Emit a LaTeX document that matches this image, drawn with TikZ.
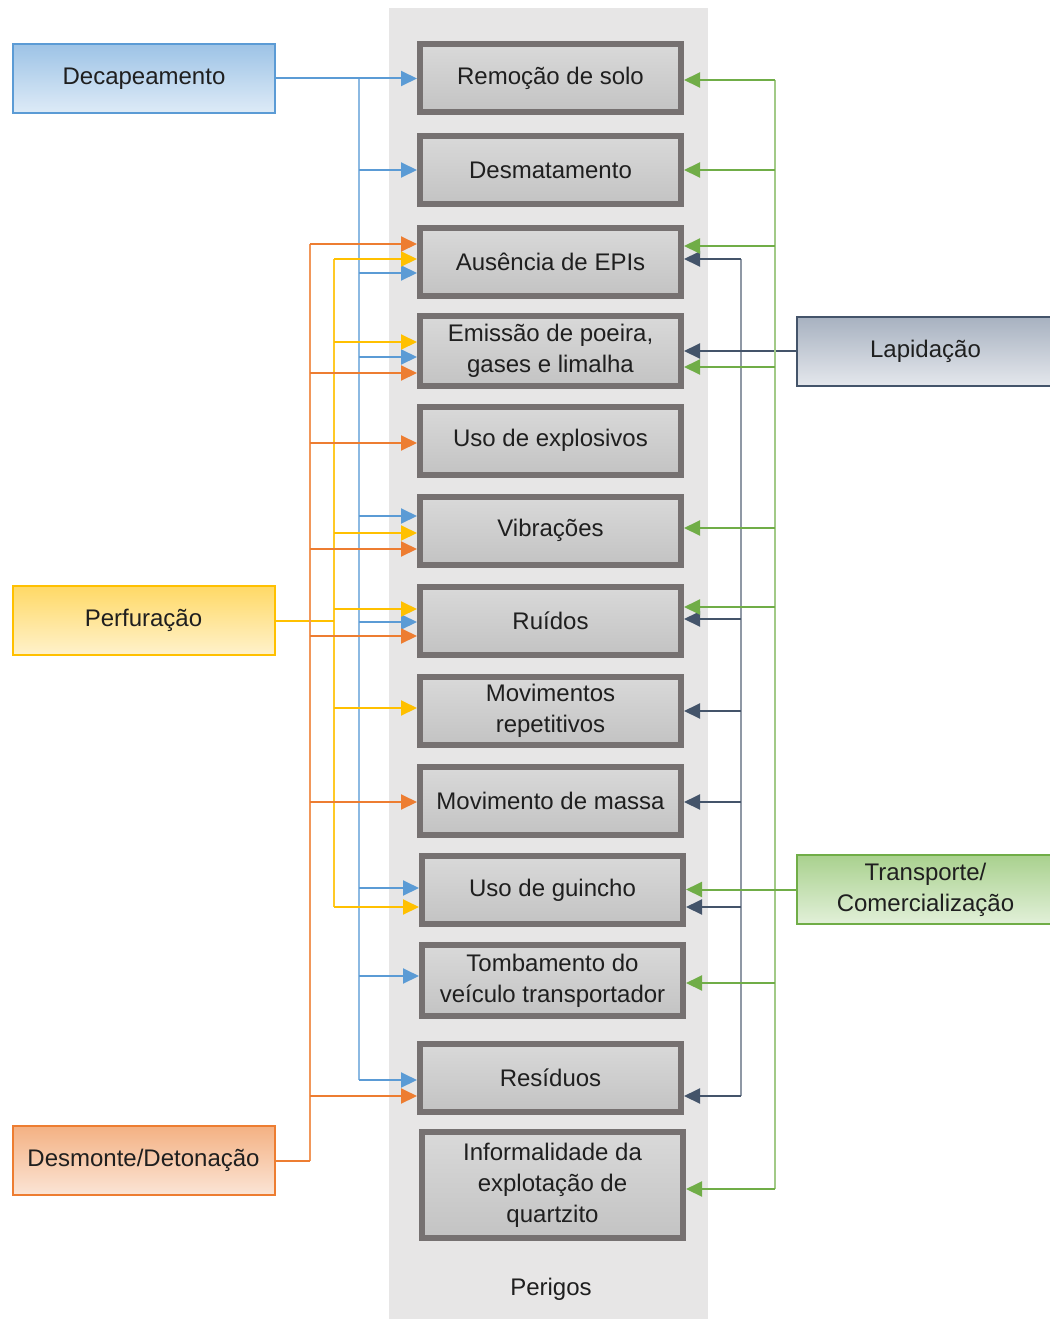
\documentclass[tikz,border=0pt]{standalone}
\usepackage{fontspec}
\setmainfont{Liberation Sans}
\usetikzlibrary{arrows.meta}

% palette
\definecolor{bgcol}{HTML}{E7E6E6}
\definecolor{hzborder}{HTML}{767171}
\definecolor{hztop}{HTML}{D9D9D9}
\definecolor{hzbot}{HTML}{C3C3C3}
\definecolor{txt}{HTML}{1F1F1F}
\definecolor{bluec}{HTML}{5B9BD5}
\definecolor{bluetop}{HTML}{9DC3E6}
\definecolor{bluebot}{HTML}{DEEBF7}
\definecolor{yellowc}{HTML}{FFC000}
\definecolor{yellowtop}{HTML}{FFD966}
\definecolor{yellowbot}{HTML}{FFF2CC}
\definecolor{orangec}{HTML}{ED7D31}
\definecolor{orangetop}{HTML}{F4B183}
\definecolor{orangebot}{HTML}{FBE5D6}
\definecolor{greenc}{HTML}{70AD47}
\definecolor{greentop}{HTML}{A9D18E}
\definecolor{greenbot}{HTML}{E2F0D9}
\definecolor{darkc}{HTML}{44546A}
\definecolor{darktop}{HTML}{A7B1C0}
\definecolor{darkbot}{HTML}{E4E7EC}

\newcommand\diagfont{\fontsize{24}{31}\selectfont}

\tikzset{
  hazard/.style={draw=hzborder, line width=6pt, top color=hztop, bottom color=hzbot,
    minimum width=261pt, minimum height=68pt, align=center, inner sep=2pt,
    font=\diagfont, text=txt},
  source/.style={line width=2pt, minimum width=262pt, minimum height=69pt,
    align=center, font=\diagfont, text=txt},
  link/.style={line width=2pt, -{Triangle[length=16pt,width=15pt]}},
  trunk/.style={line width=2pt},
}

\begin{document}
\begin{tikzpicture}[x=1pt,y=-1pt]
\useasboundingbox (0,0) rectangle (1049,1319);

% column of hazards
\fill[bgcol] (389,8) rectangle (708,1319);
\node[font=\diagfont, text=txt] (perigos) at (551,1289) {Perigos};

\node[hazard] (h1)  at (550.5,78.5)  {Remoção de solo};
\node[hazard] (h2)  at (550.5,170)   {Desmatamento};
\node[hazard] (h3)  at (550.5,261.5) {Ausência de EPIs};
\node[hazard, minimum height=70pt] (h4) at (550.5,351) {Emissão de poeira,\\gases e limalha};
\node[hazard] (h5)  at (550.5,440.5) {Uso de explosivos};
\node[hazard] (h6)  at (550.5,530.5) {Vibrações};
\node[hazard] (h7)  at (550.5,620.5) {Ruídos};
\node[hazard] (h8)  at (550.5,710.5) {Movimentos\\repetitivos};
\node[hazard] (h9)  at (550.5,800.5) {Movimento de massa};
\node[hazard] (h10) at (552.5,890)   {Uso de guincho};
\node[hazard, minimum height=71pt] (h11) at (552.5,980.5) {Tombamento do\\veículo transportador};
\node[hazard] (h12) at (550.5,1077.5) {Resíduos};
\node[hazard, minimum height=106pt] (h13) at (552.5,1185) {Informalidade da\\explotação de\\quartzito};

% activities
\node[source, draw=bluec, top color=bluetop, bottom color=bluebot] (dec) at (144,78.5) {Decapeamento};
\node[source, draw=yellowc, top color=yellowtop, bottom color=yellowbot] (per) at (143.5,620.5) {Perfuração};
\node[source, draw=orangec, top color=orangetop, bottom color=orangebot] (des) at (143.5,1160.5) {Desmonte/Detonação};
\node[source, draw=darkc, top color=darktop, bottom color=darkbot, minimum width=257pt] (lap) at (925.5,351) {Lapidação};
\node[source, draw=greenc, top color=greentop, bottom color=greenbot, minimum width=257pt] (tra) at (925.5,889.5) {Transporte/\\Comercialização};

% Decapeamento
\coordinate (btop) at (359,78.5);
\coordinate (bbot) at (359,1080);
\draw[trunk, bluec!70!white] (btop) -- (bbot);
\draw[link, bluec] (dec.east) -- (dec.east -| h1.west);
\foreach \y/\n in {170/h2, 273/h3, 357/h4, 516/h6, 622/h7, 888/h10, 976/h11, 1080/h12} {
  \coordinate (b-\n) at (359,\y);
  \draw[link, bluec] (b-\n) -- (b-\n -| \n.west);
}

% Perfuração
\coordinate (ytop) at (334,259);
\coordinate (ybot) at (334,907);
\coordinate (yjoin) at (334,620.5);
\draw[trunk, yellowc!85!white] (ytop) -- (ybot);
\draw[trunk, yellowc] (per.east) -- (yjoin);
\foreach \y/\n in {259/h3, 342/h4, 533/h6, 609/h7, 708/h8, 907/h10} {
  \coordinate (y-\n) at (334,\y);
  \draw[link, yellowc] (y-\n) -- (y-\n -| \n.west);
}

% Desmonte/Detonação
\coordinate (otop) at (310,244);
\coordinate (ojoin) at (310,1160.5);
\draw[trunk, orangec!80!white] (otop) -- (ojoin);
\draw[trunk, orangec] (des.east) -- (ojoin);
\foreach \y/\n in {244/h3, 373/h4, 443/h5, 549/h6, 636/h7, 802/h9, 1096/h12} {
  \coordinate (o-\n) at (310,\y);
  \draw[link, orangec] (o-\n) -- (o-\n -| \n.west);
}

% Lapidação
\coordinate (dtop) at (741,259);
\coordinate (dbot) at (741,1096);
\draw[trunk, darkc!60!white] (dtop) -- (dbot);
\draw[link, darkc] (lap.west) -- (lap.west -| h4.east);
\foreach \y/\n in {259/h3, 619/h7, 711/h8, 802/h9, 907/h10, 1096/h12} {
  \coordinate (d-\n) at (741,\y);
  \draw[link, darkc] (d-\n) -- (d-\n -| \n.east);
}

% Transporte/Comercialização
\coordinate (gtop) at (774.5,80);
\coordinate (gbot) at (774.5,1189);
\draw[trunk, greenc!65!white] (gtop) -- (gbot);
\draw[link, greenc] (tra.west) -- (tra.west -| h10.east);
\foreach \y/\n in {80/h1, 170/h2, 246/h3, 367/h4, 528/h6, 607/h7, 983/h11, 1189/h13} {
  \coordinate (g-\n) at (774.5,\y);
  \draw[link, greenc] (g-\n) -- (g-\n -| \n.east);
}
\end{tikzpicture}
\end{document}
